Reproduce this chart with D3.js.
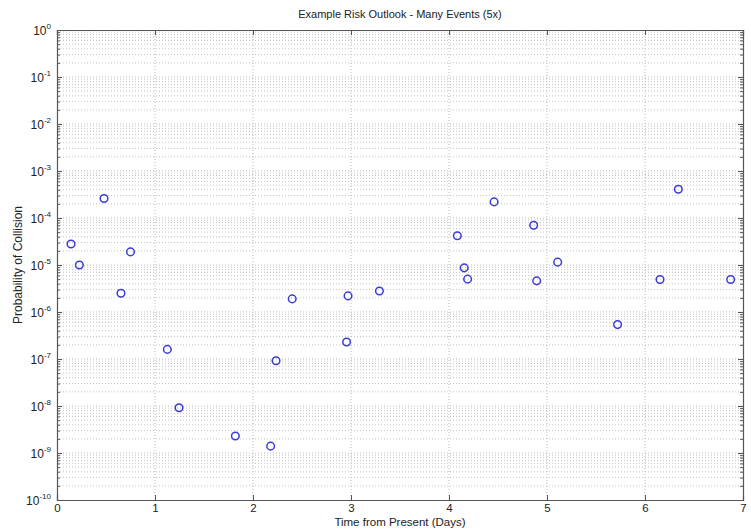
<!DOCTYPE html>
<html><head><meta charset="utf-8">
<script src="https://cdn.jsdelivr.net/npm/d3@7/dist/d3.min.js"></script>
<style>body{margin:0;background:#fff;}svg{display:block;font-family:"Liberation Sans",Arial,sans-serif;}</style>
</head><body>
<svg id="c" width="751" height="529"></svg>
<script>
const days = [0.143,0.228,0.48,0.75,0.653,1.126,1.245,1.82,2.18,2.235,2.955,2.40,2.97,3.29,4.085,4.155,4.19,4.46,4.864,4.895,5.109,5.72,6.153,6.34,6.874];
const prob = [2.8e-5,1.0e-5,2.6e-4,1.9e-5,2.5e-6,1.6e-7,9.2e-9,2.3e-9,1.4e-9,9.2e-8,2.3e-7,1.9e-6,2.2e-6,2.8e-6,4.2e-5,8.7e-6,5.0e-6,2.2e-4,7.0e-5,4.6e-6,1.15e-5,5.4e-7,4.9e-6,4.1e-4,4.9e-6];
const xTicks = [0,1,2,3,4,5,6,7];
const yExponents = [0,-1,-2,-3,-4,-5,-6,-7,-8,-9,-10];
const title = "Example Risk Outlook - Many Events (5x)";
const xLabel = "Time from Present (Days)";
const yLabel = "Probability of Collision";

const L=57,R=743,T=30,B=500;
const svg=d3.select("#c");
const x=d3.scaleLinear().domain([0,7]).range([L,R]);
const y=d3.scaleLog().domain([1e-10,1]).range([B,T]);

const minors=[];
for(let e=-10;e<0;e++){for(let m=2;m<=9;m++)minors.push(m*Math.pow(10,e));}
const majors=yExponents.map(e=>Math.pow(10,e));

const g=svg.append("g");
g.selectAll(".hm").data(minors).join("line")
 .attr("x1",L).attr("x2",R).attr("y1",d=>y(d)).attr("y2",d=>y(d))
 .attr("stroke","#c4c4c4").attr("stroke-width",1).attr("stroke-dasharray","1,2");
g.selectAll(".hM").data(majors.slice(1,-1)).join("line")
 .attr("x1",L).attr("x2",R).attr("y1",d=>y(d)).attr("y2",d=>y(d))
 .attr("stroke","#bdbdbd").attr("stroke-width",1).attr("stroke-dasharray","1,2");
g.selectAll(".v").data(xTicks.slice(1,-1)).join("line")
 .attr("y1",T).attr("y2",B).attr("x1",d=>x(d)).attr("x2",d=>x(d))
 .attr("stroke","#bdbdbd").attr("stroke-width",1).attr("stroke-dasharray","1,2");

const axColor="#555";
const xb=svg.append("g").attr("transform",`translate(0,${B})`)
 .call(d3.axisBottom(x).tickValues(xTicks).tickSize(-5).tickPadding(4).tickFormat(d3.format("d")));
const xt=svg.append("g").attr("transform",`translate(0,${T})`)
 .call(d3.axisTop(x).tickValues(xTicks).tickSize(-5).tickFormat(""));
const yl=svg.append("g").attr("transform",`translate(${L},0)`)
 .call(d3.axisLeft(y).tickValues(majors).tickSize(-5).tickFormat(""));
const ylm=svg.append("g").attr("transform",`translate(${L},0)`)
 .call(d3.axisLeft(y).tickValues(minors).tickSize(-3).tickFormat(""));
const yr=svg.append("g").attr("transform",`translate(${R},0)`)
 .call(d3.axisRight(y).tickValues(majors).tickSize(-5).tickFormat(""));
const yrm=svg.append("g").attr("transform",`translate(${R},0)`)
 .call(d3.axisRight(y).tickValues(minors).tickSize(-3).tickFormat(""));
[xb,xt,yl,ylm,yr,yrm].forEach(a=>{
  a.select(".domain").attr("stroke",axColor).attr("stroke-width",1.2);
  a.selectAll(".tick line").attr("stroke",axColor);
});
[ylm,yrm].forEach(a=>a.select(".domain").remove());
xb.selectAll("text").attr("fill","#222").attr("font-size",11.5).attr("font-family","Liberation Sans, Arial, sans-serif");

const ylab=svg.append("g");
yExponents.forEach(e=>{
  const t=ylab.append("text").attr("x",L-6).attr("y",y(Math.pow(10,e))+5)
   .attr("text-anchor","end").attr("font-size",12).attr("fill","#222");
  t.append("tspan").text("10");
  t.append("tspan").attr("dy",-6).attr("font-size",8).text(String(e));
});

svg.append("g").selectAll("circle").data(days.map((d,i)=>[d,prob[i]])).join("circle")
 .attr("cx",d=>x(d[0])).attr("cy",d=>y(d[1])).attr("r",3.8)
 .attr("fill","none").attr("stroke","#3b3bd6").attr("stroke-width",1.5);

svg.append("text").attr("x",(L+R)/2).attr("y",18).attr("text-anchor","middle")
 .attr("font-size",11).attr("fill","#222").text(title);
svg.append("text").attr("x",(L+R)/2).attr("y",526).attr("text-anchor","middle")
 .attr("font-size",11.5).attr("fill","#222").text(xLabel);
svg.append("text").attr("transform",`translate(22,${(T+B)/2}) rotate(-90)`).attr("text-anchor","middle")
 .attr("font-size",12).attr("fill","#222").text(yLabel);
</script>
</body></html>
